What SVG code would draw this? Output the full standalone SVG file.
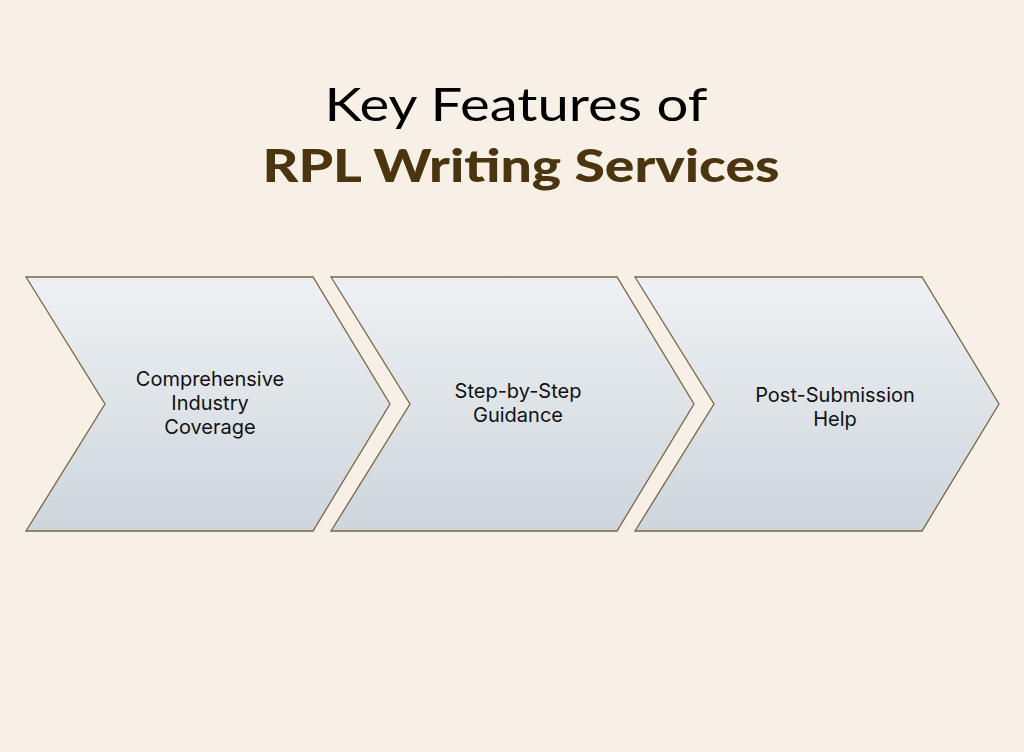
<svg xmlns="http://www.w3.org/2000/svg" width="1024" height="752" viewBox="0 0 1024 752">
<defs>
<linearGradient id="g" x1="0" y1="0" x2="0" y2="1">
<stop offset="0" stop-color="#EEF1F4"/>
<stop offset="1" stop-color="#CDD6DC"/>
</linearGradient>
<style>
.shape{fill:url(#g);stroke:#7A6446;stroke-width:1.3}
.lbl{font-family:Inter,"Noto Sans",sans-serif;font-size:20px;fill:#111;text-anchor:middle}
.t1{font-family:Lato,"Noto Sans",sans-serif;font-size:46px;fill:#000;text-anchor:middle}
.t2{font-family:Lato,"Noto Sans",sans-serif;font-size:46px;font-weight:900;fill:#4A3510;text-anchor:middle}
</style>
</defs>
<rect width="1024" height="752" fill="#F7F0E7"/>
<g id="title">
<text class="t1" x="516" y="121" textLength="383" lengthAdjust="spacingAndGlyphs">Key Features of</text>
<text class="t2" x="521" y="182" textLength="517" lengthAdjust="spacingAndGlyphs">RPL Writing Services</text>
</g>
<g id="connectors"></g>
<g id="node1">
<polygon class="shape" points="26,277 313,277 390,404 313,531 26,531 105,404"/>
<text class="lbl" x="210" y="386">Comprehensive</text>
<text class="lbl" x="210" y="410">Industry</text>
<text class="lbl" x="210" y="434">Coverage</text>
</g>
<g id="node2">
<polygon class="shape" points="331,277 617,277 694,404 617,531 331,531 410,404"/>
<text class="lbl" x="518" y="398">Step-by-Step</text>
<text class="lbl" x="518" y="422">Guidance</text>
</g>
<g id="node3">
<polygon class="shape" points="635,277 922,277 999,404 922,531 635,531 714,404"/>
<text class="lbl" x="835" y="402">Post-Submission</text>
<text class="lbl" x="835" y="426">Help</text>
</g>
</svg>
